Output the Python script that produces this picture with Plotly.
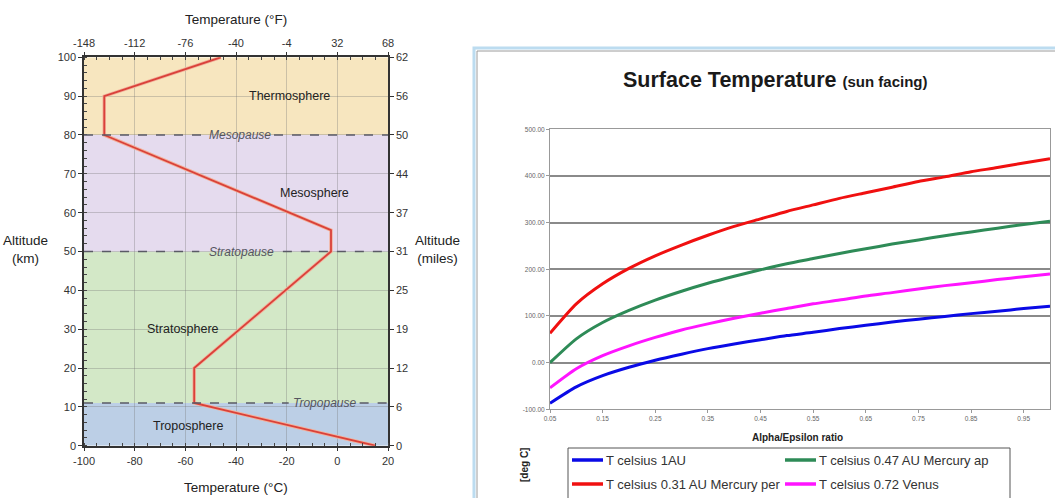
import plotly.graph_objects as go

W, H = 1055, 498

# ---------------- Left chart data: standard atmosphere profile ----------------
profile_temp_c = [15, -56.5, -56.5, -2.5, -2.5, -92, -92, -46]
profile_alt_km = [0, 11, 20, 50, 55.5, 80, 90, 100]

layer_names = ["Troposphere", "Stratosphere", "Mesosphere", "Thermosphere"]
layer_bottom = [0, 11, 50, 80]
layer_top = [11, 50, 80, 100]
layer_label_x = [-59, -61, -9, -19]
layer_label_y = [5, 30, 65, 90]

pause_names = ["Tropopause", "Stratopause", "Mesopause"]
pause_alt = [11, 50, 80]
pause_label_x = [-5.2, -38, -38.5]

c_ticks = [-100, -80, -60, -40, -20, 0, 20]
c_labels = ["-100", "-80", "-60", "-40", "-20", "0", "20"]
f_ticks = [-148, -112, -76, -40, -4, 32, 68]
f_labels = ["-148", "-112", "-76", "-40", "-4", "32", "68"]
km_ticks = [0, 10, 20, 30, 40, 50, 60, 70, 80, 90, 100]
mile_labels = ["0", "6", "12", "19", "25", "31", "37", "44", "50", "56", "62"]

# ---------------- Right chart data: surface temperature ----------------
ratio = [0.05, 0.10, 0.15, 0.20, 0.25, 0.30, 0.35, 0.40, 0.45, 0.50,
         0.55, 0.60, 0.65, 0.70, 0.75, 0.80, 0.85, 0.90, 0.95, 1.00]
t_1au = [-87, -52, -28, -10, 5, 18, 30, 40, 49, 58,
         65, 73, 80, 87, 93, 99, 105, 110, 116, 121]
t_mercury_ap = [0, 51, 86, 112, 134, 153, 170, 185, 199, 212,
                223, 234, 244, 254, 263, 272, 280, 288, 296, 303]
t_mercury_per = [63, 126, 169, 202, 229, 252, 273, 292, 308, 324,
                 338, 352, 364, 376, 388, 398, 409, 418, 428, 437]
t_venus = [-54, -13, 15, 36, 54, 70, 83, 95, 106, 116,
           126, 134, 143, 150, 158, 165, 171, 178, 184, 190]
x_tick_vals = [0.05, 0.15, 0.25, 0.35, 0.45, 0.55, 0.65, 0.75, 0.85, 0.95]
x_tick_text = ["0.05", "0.15", "0.25", "0.35", "0.45", "0.55", "0.65", "0.75", "0.85", "0.95"]
y_tick_vals = [-100, 0, 100, 200, 300, 400, 500]
y_tick_text = ["-100.00", "0.00", "100.00", "200.00", "300.00", "400.00", "500.00"]

series_names = ["T celsius 1AU", "T celsius 0.47 AU Mercury ap",
                "T celsius 0.31 AU Mercury per", "T celsius 0.72 Venus"]
series_values = [t_1au, t_mercury_ap, t_mercury_per, t_venus]
series_colors = ["#0a0ae6", "#2e8b57", "#f01010", "#ff14ff"]


def px(x):
    return x / W


def py(y):
    return 1 - y / H


FONT = "Liberation Sans, Arial, sans-serif"
band_colors = ["#bccfe6", "#d3e8c7", "#e5dbee", "#f7e6bf"]

fig = go.Figure()

# left chart: temperature profile
fig.add_trace(go.Scatter(x=profile_temp_c, y=profile_alt_km, mode="lines",
                         line=dict(color="#f3b09a", width=3.5),
                         xaxis="x", yaxis="y", showlegend=False, hoverinfo="skip"))
fig.add_trace(go.Scatter(x=profile_temp_c, y=profile_alt_km, mode="lines",
                         line=dict(color="#d9413a", width=1.8),
                         xaxis="x", yaxis="y", showlegend=False))
# dummy for secondary axes
fig.add_trace(go.Scatter(x=[None], y=[None], xaxis="x2", yaxis="y2", showlegend=False))

# right chart lines
for name, vals, col in zip(series_names, series_values, series_colors):
    fig.add_trace(go.Scatter(x=ratio, y=vals, mode="lines", name=name, showlegend=False,
                             line=dict(color=col, width=3, shape="spline", smoothing=0.6),
                             xaxis="x3", yaxis="y3"))

shapes = []
annotations = []


def ann(**kw):
    base = dict(showarrow=False, xanchor="center", yanchor="middle")
    base.update(kw)
    annotations.append(base)


# bands
for nm, b, t, col in zip(layer_names, layer_bottom, layer_top, band_colors):
    shapes.append(dict(type="rect", xref="x", yref="y", x0=-100, x1=20, y0=b, y1=t,
                       fillcolor=col, line=dict(width=0), layer="below"))
for nm, lx, ly in zip(layer_names, layer_label_x, layer_label_y):
    ann(xref="x", yref="y", x=lx, y=ly, text=nm,
        font=dict(family=FONT, size=12.5, color="#222"))

# pause lines with gaps for labels
gap_half = [14, 16.5, 13.5]
for nm, alt, lx, gh in zip(pause_names, pause_alt, pause_label_x, gap_half):
    for xa, xb in [(-100, lx - gh), (lx + gh, 20)]:
        shapes.append(dict(type="line", xref="x", yref="y", x0=xa, x1=xb, y0=alt, y1=alt,
                           line=dict(color="#5a5a66", width=1.3, dash="dash"), layer="above"))
    ann(xref="x", yref="y", x=lx, y=alt, text="<i>" + nm + "</i>",
        font=dict(family=FONT, size=12, color="#555560"))

# left axis titles
ann(xref="paper", yref="paper", x=px(236), y=py(19), text="Temperature (°F)",
    font=dict(family=FONT, size=13.5, color="#222"))
ann(xref="paper", yref="paper", x=px(236), y=py(487), text="Temperature (°C)",
    font=dict(family=FONT, size=13.5, color="#222"))
ann(xref="paper", yref="paper", x=px(25), y=py(249), text="Altitude<br>(km)",
    font=dict(family=FONT, size=13.5, color="#222"))
ann(xref="paper", yref="paper", x=px(437), y=py(249), text="Altitude<br>(miles)",
    font=dict(family=FONT, size=13.5, color="#222"))

# right chart frame
shapes.append(dict(type="rect", xref="paper", yref="paper", x0=px(474), x1=px(1070),
                   y0=py(48), y1=py(520), line=dict(color="#bcdcf0", width=3), fillcolor="rgba(0,0,0,0)"))
shapes.append(dict(type="rect", xref="paper", yref="paper", x0=px(477), x1=px(1070),
                   y0=py(51), y1=py(520), line=dict(color="#9c9c9c", width=1), fillcolor="rgba(0,0,0,0)"))

ann(xref="paper", yref="paper", x=px(775), y=py(80),
    text="<b>Surface Temperature</b> <b><span style='font-size:15px'>(sun facing)</span></b>",
    font=dict(family=FONT, size=21.5, color="#1a1a1a"))
ann(xref="paper", yref="paper", x=px(797), y=py(437), text="<b>Alpha/Epsilon ratio</b>",
    font=dict(family=FONT, size=10, color="#222"))
ann(xref="paper", yref="paper", x=px(524), y=py(465), text="<b>[deg C]</b>", textangle=-90,
    font=dict(family=FONT, size=10, color="#222"))

# manual legend (2 x 2 grid, like the reference)
shapes.append(dict(type="rect", xref="paper", yref="paper", x0=px(568), x1=px(1010),
                   y0=py(448), y1=py(520), line=dict(color="#555", width=1), fillcolor="white"))
legend_cells = [(572, 460), (785, 460), (572, 484), (785, 484)]
for (lx, ly), name, col in zip(legend_cells, series_names, series_colors):
    shapes.append(dict(type="line", xref="paper", yref="paper", x0=px(lx), x1=px(lx + 31),
                       y0=py(ly), y1=py(ly), line=dict(color=col, width=3.5)))
    ann(xref="paper", yref="paper", x=px(lx + 32), y=py(ly), text=name, xanchor="left",
        font=dict(family=FONT, size=13, color="#333"))

tickfont_left = dict(family=FONT, size=11, color="#333")
tickfont_right = dict(family=FONT, size=6.5, color="#666")

fig.update_layout(
    width=W, height=H, margin=dict(l=0, r=0, t=0, b=0, autoexpand=False),
    paper_bgcolor="white", plot_bgcolor="rgba(0,0,0,0)",
    font=dict(family=FONT), showlegend=False,
    shapes=shapes, annotations=annotations,
    xaxis=dict(domain=[px(84), px(388)], range=[-100, 20], anchor="y",
               tickvals=c_ticks, ticktext=c_labels, tickfont=tickfont_left,
               showgrid=True, gridcolor="rgba(120,120,120,0.35)", gridwidth=1,
               showline=True, linecolor="#333", linewidth=1.5,
               ticks="outside", ticklen=4, tickcolor="#333",
               minor=dict(dtick=5, ticks="inside", ticklen=3, tickcolor="#444", showgrid=False),
               zeroline=False),
    xaxis2=dict(range=[-148, 68], overlaying="x", side="top", anchor="y2",
                tickvals=f_ticks, ticktext=f_labels, tickfont=tickfont_left, showgrid=False,
                showline=True, linecolor="#333", linewidth=1.5,
                ticks="outside", ticklen=4, tickcolor="#333",
                minor=dict(dtick=9, tick0=-148, ticks="inside", ticklen=3, tickcolor="#444"),
                zeroline=False),
    yaxis=dict(domain=[py(445.7), py(57.3)], range=[0, 100], anchor="x",
               tickvals=km_ticks, tickfont=tickfont_left,
               showgrid=True, gridcolor="rgba(120,120,120,0.35)", gridwidth=1,
               showline=True, linecolor="#333", linewidth=1.5,
               ticks="outside", ticklen=4, tickcolor="#333",
               minor=dict(dtick=2, ticks="inside", ticklen=3, tickcolor="#444", showgrid=False),
               zeroline=False),
    yaxis2=dict(range=[0, 100], overlaying="y", side="right", anchor="x2",
                tickvals=km_ticks, ticktext=mile_labels, tickfont=tickfont_left,
                showgrid=False, showline=True, linecolor="#333", linewidth=1.5,
                ticks="outside", ticklen=4, tickcolor="#333", zeroline=False),
    xaxis3=dict(domain=[px(550), px(1050)], range=[0.05, 1.0], anchor="y3",
                tickvals=x_tick_vals, ticktext=x_tick_text, tickfont=tickfont_right,
                showgrid=False, showline=True, linecolor="#999", linewidth=1, mirror=True,
                ticks="outside", ticklen=3, tickcolor="#999", zeroline=False),
    yaxis3=dict(domain=[py(409.3), py(129.3)], range=[-100, 500], anchor="x3",
                tickvals=y_tick_vals, ticktext=y_tick_text, tickfont=tickfont_right,
                showgrid=True, gridcolor="#8a8a8a", gridwidth=1.5,
                showline=True, linecolor="#999", linewidth=1, mirror=True,
                ticks="outside", ticklen=3, tickcolor="#999", zeroline=False),
)

fig.write_html("out.html")
